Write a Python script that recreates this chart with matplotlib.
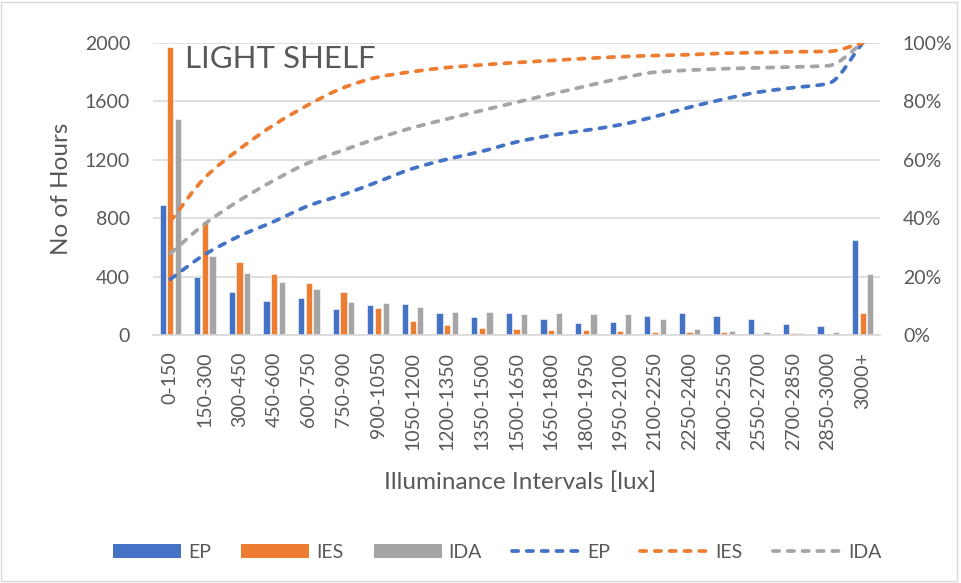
import numpy as np
import matplotlib
matplotlib.use("Agg")
import matplotlib.pyplot as plt
from matplotlib.path import Path
from matplotlib.patches import PathPatch, Rectangle, Patch
from matplotlib.lines import Line2D

# Illuminance bins and hours per bin
categories = ["0-150", "150-300", "300-450", "450-600", "600-750", "750-900",
              "900-1050", "1050-1200", "1200-1350", "1350-1500", "1500-1650",
              "1650-1800", "1800-1950", "1950-2100", "2100-2250", "2250-2400",
              "2400-2550", "2550-2700", "2700-2850", "2850-3000", "3000+"]

ep_hours = [890, 395, 297, 231, 251, 178, 205, 212, 148, 125, 148,
            110, 80, 87, 130, 151, 128, 112, 73, 62, 650]
ies_hours = [1975, 765, 498, 420, 354, 295, 183, 96, 68, 48, 41,
             34, 36, 30, 21, 18, 23, 9, 14, 7, 148]
ida_hours = [1480, 539, 425, 365, 315, 228, 219, 192, 158, 155, 146,
             148, 141, 144, 110, 39, 25, 18, 14, 21, 415]

# Cumulative share of hours (%)
ep_cum = [19.1, 27.6, 33.9, 38.9, 44.3, 48.1, 52.5, 57.0, 60.2, 62.9, 66.1,
          68.4, 70.1, 72.0, 74.8, 78.0, 80.8, 83.2, 84.7, 86.1, 100.0]
ies_cum = [38.9, 53.9, 63.7, 72.0, 78.9, 84.7, 88.3, 90.2, 91.6, 92.5, 93.3,
           94.0, 94.7, 95.3, 95.7, 96.0, 96.5, 96.7, 97.0, 97.1, 100.0]
ida_cum = [27.9, 38.1, 46.1, 53.0, 59.0, 63.3, 67.4, 71.0, 74.0, 76.9, 79.7,
           82.5, 85.2, 87.9, 90.0, 90.7, 91.2, 91.5, 91.8, 92.2, 100.0]

left_ticks = [0, 400, 800, 1200, 1600, 2000]
right_ticks = [0, 20, 40, 60, 80, 100]

BLUE = "#4472C4"
ORANGE = "#ED7D31"
GRAY = "#A5A5A5"
TXT = "#595959"
GRID = "#D9D9D9"

plt.rcParams["font.family"] = ["Lato", "DejaVu Sans"]

W, H = 961, 583
fig = plt.figure(figsize=(W / 100, H / 100), dpi=100)
fig.patches.append(Rectangle((0.001, 0.004), 0.995, 0.993, transform=fig.transFigure,
                             fill=False, edgecolor=GRID, linewidth=1.0))

AX_L, AX_R, AX_T, AX_B = 153, 880, 43, 335
ax = fig.add_axes([AX_L / W, 1 - AX_B / H, (AX_R - AX_L) / W, (AX_B - AX_T) / H])
x = np.arange(len(categories))
w = 0.18
off = 0.222
ax.bar(x - off, ep_hours, w, color=BLUE, edgecolor="white", linewidth=0.4, zorder=2)
ax.bar(x, ies_hours, w, color=ORANGE, edgecolor="white", linewidth=0.4, zorder=2)
ax.bar(x + off, ida_hours, w, color=GRAY, edgecolor="white", linewidth=0.4, zorder=2)

ax.set_xlim(-0.5, len(categories) - 0.5)
ax.set_ylim(0, 2000)
ax.set_yticks(left_ticks)
ax.set_yticklabels([str(t) for t in left_ticks])
ax.set_xticks(x)
ax.set_xticklabels(categories, rotation=90)
ax.grid(axis="y", color=GRID, linewidth=1.2, zorder=0)
ax.set_axisbelow(True)
for s in ["top", "left", "right"]:
    ax.spines[s].set_visible(False)
ax.spines["bottom"].set_color(GRID)
ax.spines["bottom"].set_linewidth(1.2)
ax.tick_params(axis="both", length=0, labelsize=14, colors=TXT)
ax.tick_params(axis="x", pad=12)
ax.tick_params(axis="y", pad=16.5)

ax.set_ylabel("No of Hours", fontsize=17.5, color=TXT)
ax.yaxis.set_label_coords((72 - AX_L) / (AX_R - AX_L), 0.5)
ax.set_xlabel("Illuminance Intervals [lux]", fontsize=17.5, color=TXT)
ax.xaxis.set_label_coords(0.505, (AX_B - 471) / (AX_B - AX_T))
ax.text((185 - AX_L) / (AX_R - AX_L), (AX_B - 45) / (AX_B - AX_T), "LIGHT SHELF",
        transform=ax.transAxes, fontsize=22.5, color=TXT, va="top", ha="left")

ax2 = ax.twinx()
ax2.set_ylim(0, 100)
ax2.set_yticks(right_ticks)
ax2.set_yticklabels([f"{t}%" for t in right_ticks])
for s in ["top", "left", "right", "bottom"]:
    ax2.spines[s].set_visible(False)
ax2.tick_params(axis="y", length=0, labelsize=14, colors=TXT, pad=16.5)


def smooth_path(xs, ys):
    """Monotone cubic Bezier curve through every point (no overshoot)."""
    xs = np.asarray(xs, float)
    ys = np.asarray(ys, float)
    n = len(xs)
    h = np.diff(xs)
    d = np.diff(ys) / h
    m = np.zeros(n)
    m[0], m[-1] = d[0], d[-1]
    for i in range(1, n - 1):
        if d[i - 1] * d[i] <= 0:
            m[i] = 0.0
        else:
            w1 = 2 * h[i] + h[i - 1]
            w2 = h[i] + 2 * h[i - 1]
            m[i] = (w1 + w2) / (w1 / d[i - 1] + w2 / d[i])
    verts = [(xs[0], ys[0])]
    codes = [Path.MOVETO]
    for i in range(n - 1):
        dx = h[i] / 3.0
        verts += [(xs[i] + dx, ys[i] + m[i] * dx),
                  (xs[i + 1] - dx, ys[i + 1] - m[i + 1] * dx),
                  (xs[i + 1], ys[i + 1])]
        codes += [Path.CURVE4] * 3
    return Path(verts, codes)


LW = 2.7
dash = (0, (1.65, 2.3))
for vals, col in [(ep_cum, BLUE), (ies_cum, ORANGE), (ida_cum, GRAY)]:
    patch = PathPatch(smooth_path(x, vals), fill=False, edgecolor=col, linewidth=LW,
                      linestyle=dash, capstyle="round", zorder=3)
    ax2.add_patch(patch)

handles = [
    Patch(facecolor=BLUE, edgecolor="none"),
    Patch(facecolor=ORANGE, edgecolor="none"),
    Patch(facecolor=GRAY, edgecolor="none"),
    Line2D([], [], color=BLUE, linewidth=LW, linestyle=dash, dash_capstyle="round"),
    Line2D([], [], color=ORANGE, linewidth=LW, linestyle=dash, dash_capstyle="round"),
    Line2D([], [], color=GRAY, linewidth=LW, linestyle=dash, dash_capstyle="round"),
]
labels = ["EP", "IES", "IDA", "EP", "IES", "IDA"]
leg = fig.legend(handles, labels, loc="center", bbox_to_anchor=(497 / W, 1 - 552 / H),
                 ncol=6, frameon=False, fontsize=14, handlelength=3.5,
                 handleheight=0.72, columnspacing=1.55, handletextpad=0.36,
                 borderpad=0, borderaxespad=0)
for t in leg.get_texts():
    t.set_color(TXT)

fig.savefig("out.png", dpi=100)
